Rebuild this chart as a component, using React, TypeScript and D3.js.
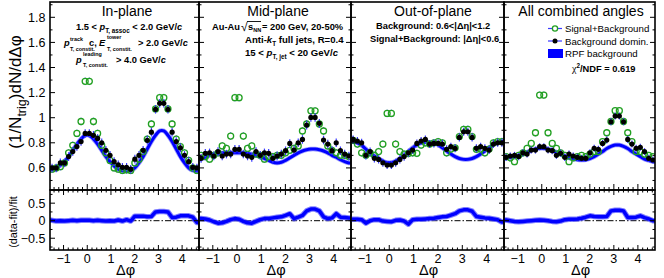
import React from 'react';
import * as d3 from 'd3';

// ---------- data ----------
const NBINS = 36;
const panelTitles = ['In-plane', 'Mid-plane', 'Out-of-plane', 'All combined angles'];

// Signal+Background (|Δη|<0.6), green open circles
const sigBkg1 = [0.59,0.60,0.61,0.64,0.72,0.78,0.875,0.97,1.29,1.29,0.97,0.875,0.78,0.72,0.66,0.60,0.59,0.58,0.585,0.58,0.64,0.67,0.73,0.83,0.95,1.07,1.16,1.16,1.07,0.95,0.83,0.77,0.72,0.66,0.60,0.58];
const sigBkg2 = [0.70,0.69,0.67,0.70,0.72,0.775,0.755,0.854,1.16,1.16,0.854,0.755,0.775,0.71,0.70,0.67,0.69,0.69,0.70,0.70,0.72,0.74,0.755,0.775,0.894,0.95,1.055,1.055,0.95,0.894,0.775,0.74,0.72,0.70,0.70,0.69];
const sigBkg3 = [0.82,0.79,0.72,0.70,0.72,0.70,0.73,0.79,1.034,1.034,0.79,0.73,0.71,0.715,0.72,0.716,0.782,0.80,0.79,0.80,0.809,0.80,0.72,0.75,0.76,0.85,0.907,0.907,0.85,0.748,0.75,0.72,0.75,0.80,0.81,0.81];
const sigBkg4 = [0.69,0.68,0.65,0.70,0.72,0.756,0.795,0.88,1.18,1.18,0.88,0.795,0.756,0.72,0.70,0.65,0.68,0.69,0.70,0.69,0.71,0.73,0.73,0.809,0.88,0.97,1.056,1.056,0.97,0.88,0.809,0.73,0.73,0.71,0.70,0.69];

// Background dominated (0.6<|Δη|<1.2), black filled circles
const bkgDom1 = [0.60,0.60,0.64,0.64,0.69,0.73,0.77,0.81,0.875,0.875,0.86,0.835,0.80,0.74,0.70,0.65,0.625,0.605,0.605,0.59,0.67,0.70,0.74,0.82,0.885,1.067,1.115,1.115,1.067,0.885,0.81,0.76,0.70,0.65,0.605,0.60];
const bkgDom2 = [0.676,0.716,0.72,0.695,0.73,0.695,0.71,0.71,0.748,0.748,0.71,0.695,0.684,0.73,0.70,0.72,0.716,0.676,0.695,0.71,0.737,0.795,0.742,0.80,0.827,0.941,1.002,1.002,0.955,0.822,0.79,0.737,0.80,0.737,0.71,0.695];
const bkgDom3 = [0.827,0.814,0.80,0.70,0.73,0.676,0.668,0.641,0.623,0.623,0.641,0.668,0.69,0.72,0.742,0.795,0.814,0.827,0.79,0.795,0.795,0.79,0.748,0.769,0.756,0.843,0.888,0.888,0.843,0.756,0.769,0.756,0.742,0.79,0.80,0.80];
const bkgDom4 = [0.684,0.695,0.70,0.69,0.72,0.71,0.742,0.742,0.769,0.769,0.742,0.737,0.70,0.716,0.684,0.71,0.695,0.684,0.676,0.676,0.72,0.756,0.748,0.795,0.822,0.968,1.013,1.013,0.968,0.827,0.79,0.756,0.764,0.73,0.676,0.663];

// RPF background fit, sampled at bin centres
const rpfFit1 = [0.59,0.60,0.62,0.65,0.69,0.74,0.79,0.83,0.86,0.86,0.83,0.79,0.74,0.69,0.65,0.615,0.59,0.578,0.575,0.58,0.60,0.64,0.69,0.75,0.81,0.86,0.895,0.895,0.86,0.81,0.75,0.69,0.64,0.60,0.58,0.575];
const rpfFit2 = [0.67,0.685,0.70,0.71,0.715,0.72,0.72,0.72,0.72,0.72,0.72,0.715,0.71,0.70,0.69,0.675,0.66,0.645,0.64,0.645,0.66,0.68,0.70,0.72,0.735,0.745,0.75,0.75,0.745,0.735,0.72,0.70,0.685,0.665,0.65,0.64];
const rpfFit3 = [0.81,0.80,0.78,0.75,0.72,0.695,0.675,0.655,0.643,0.643,0.655,0.675,0.70,0.73,0.76,0.785,0.80,0.805,0.805,0.80,0.785,0.76,0.735,0.71,0.69,0.675,0.668,0.668,0.675,0.69,0.71,0.735,0.76,0.785,0.80,0.81];
const rpfFit4 = [0.68,0.685,0.69,0.70,0.71,0.725,0.74,0.75,0.756,0.756,0.75,0.74,0.725,0.71,0.695,0.68,0.67,0.665,0.663,0.665,0.675,0.69,0.71,0.73,0.755,0.772,0.782,0.782,0.772,0.755,0.73,0.71,0.69,0.67,0.66,0.65];

// (data-fit)/fit
const ratio1 = [0.01,-0.01,0.0,-0.01,0.0,0.01,0.0,0.01,0.01,0.01,0.0,0.01,0.0,-0.01,0.0,-0.01,0.02,-0.01,0.03,-0.01,0.13,0.13,0.13,0.11,0.12,0.25,0.26,0.26,0.25,0.09,0.10,0.14,0.14,0.14,0.10,-0.05];
const ratio2 = [0.06,0.05,0.02,-0.03,-0.07,-0.06,-0.02,0.03,0.06,0.04,-0.02,-0.06,-0.07,-0.02,0.03,0.06,0.06,0.08,0.10,0.11,0.15,0.20,0.06,0.10,0.15,0.28,0.33,0.33,0.28,0.11,0.06,0.08,0.20,0.10,0.09,0.08];
const ratio3 = [0.04,0.04,0.03,-0.07,0.0,0.03,0.03,-0.01,-0.02,-0.03,0.01,0.02,-0.01,-0.10,0.03,0.04,0.04,0.05,0.06,0.07,0.09,0.11,0.12,0.16,0.20,0.28,0.31,0.31,0.27,0.12,0.10,0.08,0.07,0.05,0.03,-0.04];
const ratio4 = [0.02,0.0,-0.02,-0.03,-0.02,-0.01,0.0,0.01,0.02,0.01,0.0,-0.02,-0.03,-0.01,0.03,0.04,0.04,0.05,0.07,0.10,0.14,0.12,0.11,0.11,0.12,0.28,0.30,0.30,0.28,0.09,0.09,0.10,0.14,0.09,0.05,0.0];

const bkgErr = [0.034, 0.034, 0.032, 0.028];
const sigErr = [0.03, 0.03, 0.03, 0.028];

const yTopTicks = [0.6, 0.8, 1.0, 1.2, 1.4, 1.6, 1.8];
const yTopLabels = ['0.6', '0.8', '1', '1.2', '1.4', '1.6', '1.8'];
const yBotTicks = [-0.5, 0, 0.5];
const yBotLabels = ['\u22120.5', '0', '0.5'];
const xTicks = [-1, 0, 1, 2, 3, 4];
const xLabels = ['\u22121', '0', '1', '2', '3', '4'];
const legendLabels = ['Signal+Background', 'Background domin.', 'RPF background'];
const chi2Text = '0.619';

const sigAll = [sigBkg1, sigBkg2, sigBkg3, sigBkg4];
const bkgAll = [bkgDom1, bkgDom2, bkgDom3, bkgDom4];
const fitAll = [rpfFit1, rpfFit2, rpfFit3, rpfFit4];
const ratioAll = [ratio1, ratio2, ratio3, ratio4];

// ---------- drawing ----------
const FF = "'Liberation Sans', Arial, Helvetica, sans-serif";
const GREEN = '#22a022';
const BLUE = '#0000ff';
const EBLUE = '#3a3aff';
const GR = 3;

export default function App() {
  const W = 664, H = 278;
  const lefts = [50, 199, 351, 504];
  const rights = [199, 351, 504, 655];
  const top = 2, split = 190, bot = 250;
  const yTop = d3.scaleLinear().domain([0.424, 1.922]).range([split, top]);
  const yBot = d3.scaleLinear().domain([-0.835, 0.875]).range([bot, split]);
  const xDom: [number, number] = [-Math.PI / 2, (3 * Math.PI) / 2];
  const centers = d3.range(NBINS).map(i => xDom[0] + ((i + 0.5) * (xDom[1] - xDom[0])) / NBINS);

  const xMinor = d3.range(-1.4, 4.61, 0.2).filter(v => Math.abs(v - Math.round(v)) > 0.01);
  const yTopMinor = d3.range(0.5, 1.91, 0.1).filter(v => yTopTicks.every(t => Math.abs(t - v) > 0.01));
  const yBotMinor = [-0.75, -0.25, 0.25, 0.75];

  const panels = [0, 1, 2, 3].map(k => {
    const x = d3.scaleLinear().domain(xDom).range([lefts[k], rights[k]]);
    const pts = (vals: number[], ys: d3.ScaleLinear<number, number>) => {
      const arr: [number, number][] = centers.map((c, i) => [x(c), ys(vals[i])]);
      return [[x(xDom[0]), ys(vals[0])] as [number, number], ...arr, [x(xDom[1]), ys(vals[NBINS - 1])] as [number, number]];
    };
    const fitPath = d3.line().curve(d3.curveCatmullRom)(pts(fitAll[k], yTop)) || '';
    const ratioPath = d3.line().curve(d3.curveLinear)(pts(ratioAll[k], yBot)) || '';
    const L = lefts[k], R = rights[k];
    const ticks: JSX.Element[] = [];
    xTicks.forEach((t, i) => {
      const xx = x(t);
      ticks.push(<line key={`xt${i}a`} x1={xx} x2={xx} y1={split} y2={split - 6} />);
      ticks.push(<line key={`xt${i}c`} x1={xx} x2={xx} y1={bot} y2={bot - 5} />);
      ticks.push(<line key={`xt${i}d`} x1={xx} x2={xx} y1={split} y2={split + 5} />);
    });
    xMinor.forEach((t, i) => {
      const xx = x(t);
      ticks.push(<line key={`xm${i}a`} x1={xx} x2={xx} y1={split} y2={split - 3} />);
      ticks.push(<line key={`xm${i}c`} x1={xx} x2={xx} y1={bot} y2={bot - 2.5} />);
      ticks.push(<line key={`xm${i}d`} x1={xx} x2={xx} y1={split} y2={split + 2.5} />);
    });
    yTopTicks.forEach((t, i) => {
      const yy = yTop(t);
      ticks.push(<line key={`yt${i}a`} x1={L} x2={L + 5} y1={yy} y2={yy} />);
      ticks.push(<line key={`yt${i}b`} x1={R} x2={R - 5} y1={yy} y2={yy} />);
    });
    yTopMinor.forEach((t, i) => {
      const yy = yTop(t);
      ticks.push(<line key={`ym${i}a`} x1={L} x2={L + 2.5} y1={yy} y2={yy} />);
      ticks.push(<line key={`ym${i}b`} x1={R} x2={R - 2.5} y1={yy} y2={yy} />);
    });
    yBotTicks.forEach((t, i) => {
      const yy = yBot(t);
      ticks.push(<line key={`yb${i}a`} x1={L} x2={L + 5} y1={yy} y2={yy} />);
      ticks.push(<line key={`yb${i}b`} x1={R} x2={R - 5} y1={yy} y2={yy} />);
    });
    yBotMinor.forEach((t, i) => {
      const yy = yBot(t);
      ticks.push(<line key={`ybm${i}a`} x1={L} x2={L + 2.5} y1={yy} y2={yy} />);
      ticks.push(<line key={`ybm${i}b`} x1={R} x2={R - 2.5} y1={yy} y2={yy} />);
    });
    return { k, x, fitPath, ratioPath, L, R, ticks };
  });

  const bold = { fontFamily: FF, fontWeight: 700, fontSize: 9.3 } as const;
  const sub = 6.3;
  const tiny = 5.4;

  return (
    <svg width={W} height={H} viewBox={`0 0 ${W} ${H}`} style={{ position: 'absolute', left: 0, top: 0, background: '#fff' }}>
      <defs>
        {panels.map(p => (
          <React.Fragment key={p.k}>
            <clipPath id={`ct${p.k}`}><rect x={p.L} y={top} width={p.R - p.L} height={split - top} /></clipPath>
            <clipPath id={`cb${p.k}`}><rect x={p.L} y={split} width={p.R - p.L} height={bot - split} /></clipPath>
          </React.Fragment>
        ))}
      </defs>
      <rect x={0} y={0} width={W} height={H} fill="#fff" />
      {panels.map(p => {
        const { k, x } = p;
        return (
          <g key={k}>
            <g clipPath={`url(#ct${k})`}>
              <path d={p.fitPath} fill="none" stroke="#5a5aff" strokeWidth={4.6} strokeOpacity={0.6} />
              <path d={p.fitPath} fill="none" stroke={BLUE} strokeWidth={3} />
              {centers.map((c, i) => {
                const cx = x(c), cy = yTop(sigAll[k][i]);
                const yHi = yTop(sigAll[k][i] + sigErr[k]), yLo = yTop(sigAll[k][i] - sigErr[k]);
                return (
                  <g key={`s${i}`}>
                    {cy - yHi > GR && <line x1={cx} x2={cx} y1={yHi} y2={cy - GR} stroke={EBLUE} strokeWidth={1} />}
                    {yLo - cy > GR && <line x1={cx} x2={cx} y1={cy + GR} y2={yLo} stroke={EBLUE} strokeWidth={1} />}
                    <circle cx={cx} cy={cy} r={GR} fill="none" stroke={GREEN} strokeWidth={1.3} />
                  </g>
                );
              })}
              {centers.map((c, i) => (
                <g key={`b${i}`}>
                  <line x1={x(c)} x2={x(c)} y1={yTop(bkgAll[k][i] + bkgErr[k])} y2={yTop(bkgAll[k][i] - bkgErr[k])} stroke={EBLUE} strokeWidth={1.2} />
                  <circle cx={x(c)} cy={yTop(bkgAll[k][i])} r={2.6} fill="#000" />
                </g>
              ))}
            </g>
            <g clipPath={`url(#cb${k})`}>
              <line x1={p.L} x2={p.R} y1={yBot(0)} y2={yBot(0)} stroke="#000" strokeWidth={1} strokeDasharray="6 2 1.5 2" />
              <path d={p.ratioPath} fill="none" stroke="#4a4aff" strokeWidth={5.5} strokeOpacity={0.7} strokeLinejoin="round" />
              <path d={p.ratioPath} fill="none" stroke={BLUE} strokeWidth={3.5} strokeLinejoin="round" />
            </g>
            <g stroke="#000" strokeWidth={1}>{p.ticks}</g>
            <rect x={p.L} y={top} width={p.R - p.L} height={split - top} fill="none" stroke="#000" strokeWidth={1.6} />
            <rect x={p.L} y={split} width={p.R - p.L} height={bot - split} fill="none" stroke="#000" strokeWidth={1.6} />
            {xTicks.map((t, i) => (
              <text key={`xl${i}`} x={x(t)} y={263} textAnchor="middle" fontFamily={FF} fontSize={12.5}>{xLabels[i]}</text>
            ))}
            <text x={(p.L + p.R) / 2 + 1} y={274.5} textAnchor="middle" fontFamily={FF} fontSize={14.5}>{'\u0394\u03c6'}</text>
            <text x={[127, 278, 433, 581][k]} y={16} textAnchor="middle" fontFamily={FF} fontSize={14}>{panelTitles[k]}</text>
          </g>
        );
      })}

      {yTopTicks.map((t, i) => (
        <text key={`ytl${i}`} x={45.5} y={yTop(t) + 4.5} textAnchor="end" fontFamily={FF} fontSize={12.5}>{yTopLabels[i]}</text>
      ))}
      {yBotTicks.map((t, i) => (
        <text key={`ybl${i}`} x={45.5} y={yBot(t) + 4.5} textAnchor="end" fontFamily={FF} fontSize={12.5}>{yBotLabels[i]}</text>
      ))}
      <text transform="translate(21,92) rotate(-90)" textAnchor="middle" fontFamily={FF} fontSize={17}>
        (1/N<tspan fontSize={12.5} dy={5}>trig</tspan><tspan dy={-5}>)dN/d{'\u0394\u03c6'}</tspan>
      </text>
      <text transform="translate(17,222) rotate(-90)" textAnchor="middle" fontFamily={FF} fontSize={10.8}>(data-fit)/fit</text>

      {/* panel 1 annotations */}
      <text x={76} y={30} {...bold}>
        1.5 &lt; <tspan fontStyle="italic">p</tspan><tspan fontSize={sub} dy={3}>T, assoc</tspan><tspan dy={-3}> &lt; 2.0 GeV/</tspan><tspan fontStyle="italic">c</tspan>
      </text>
      <text x={64} y={46} {...bold} fontStyle="italic">p</text>
      <text x={70} y={41} {...bold} fontSize={tiny}>track</text>
      <text x={70} y={51} {...bold} fontSize={tiny}>T, constit.</text>
      <text x={89} y={46} {...bold}>c,</text>
      <text x={99} y={46} {...bold} fontStyle="italic">E</text>
      <text x={107} y={39} {...bold} fontSize={tiny}>tower</text>
      <text x={107} y={51} {...bold} fontSize={tiny}>T, constit.</text>
      <text x={138} y={46} {...bold}>&gt; 2.0 GeV/<tspan fontStyle="italic">c</tspan></text>
      <text x={76} y={63} {...bold} fontStyle="italic">p</text>
      <text x={83} y={56} {...bold} fontSize={tiny}>leading</text>
      <text x={83} y={67} {...bold} fontSize={tiny}>T, constit.</text>
      <text x={116} y={63} {...bold}>&gt; 4.0 GeV/<tspan fontStyle="italic">c</tspan></text>

      {/* panel 2 annotations */}
      <text x={212} y={30} {...bold}>Au-Au</text>
      <text x={241} y={31} fontFamily={FF} fontSize={12}>{'\u221a'}</text>
      <line x1={247} x2={261} y1={21.5} y2={21.5} stroke="#000" strokeWidth={0.9} />
      <text x={248} y={30} {...bold}>s<tspan fontSize={sub - 0.8} dy={2}>NN</tspan></text>
      <text x={262} y={30} {...bold}>= 200 GeV, 20-50%</text>
      <text x={245} y={43} {...bold} fontSize={9.6}>Anti-<tspan fontStyle="italic">k</tspan><tspan fontSize={sub} dy={2.5}>T</tspan><tspan dy={-2.5}> full jets, R=0.4</tspan></text>
      <text x={245} y={56} {...bold} fontSize={9.6}>15 &lt; <tspan fontStyle="italic">p</tspan><tspan fontSize={sub} dy={3}>T, jet</tspan><tspan dy={-3}> &lt; 20 GeV/</tspan><tspan fontStyle="italic">c</tspan></text>

      {/* panel 3 annotations */}
      <text x={376} y={29} {...bold}>Background: 0.6&lt;|{'\u0394\u03b7'}|&lt;1.2</text>
      <text x={370} y={42} {...bold}>Signal+Background: |{'\u0394\u03b7'}|&lt;0.6</text>

      {/* legend */}
      <line x1={548} x2={562} y1={28.5} y2={28.5} stroke={EBLUE} strokeWidth={1.2} />
      <circle cx={555} cy={28.5} r={2.6} fill="#fff" stroke={GREEN} strokeWidth={1.3} />
      <text x={565} y={32} fontFamily={FF} fontSize={9.7}>{legendLabels[0]}</text>
      <line x1={548} x2={562} y1={41} y2={41} stroke={EBLUE} strokeWidth={1.2} />
      <circle cx={555} cy={41} r={2.5} fill="#000" />
      <text x={565} y={44.5} fontFamily={FF} fontSize={9.7}>{legendLabels[1]}</text>
      <rect x={548} y={49} width={15} height={9} fill={BLUE} />
      <text x={565} y={57} fontFamily={FF} fontSize={9.7}>{legendLabels[2]}</text>
      <text x={572} y={72} {...bold}>
        <tspan fontFamily="'Liberation Serif', 'DejaVu Serif', serif" fontWeight={400} fontSize={10}>{'\u03c7'}</tspan><tspan fontSize={sub} dy={-4}>2</tspan><tspan dy={4}>/NDF = {chi2Text}</tspan>
      </text>
    </svg>
  );
}
